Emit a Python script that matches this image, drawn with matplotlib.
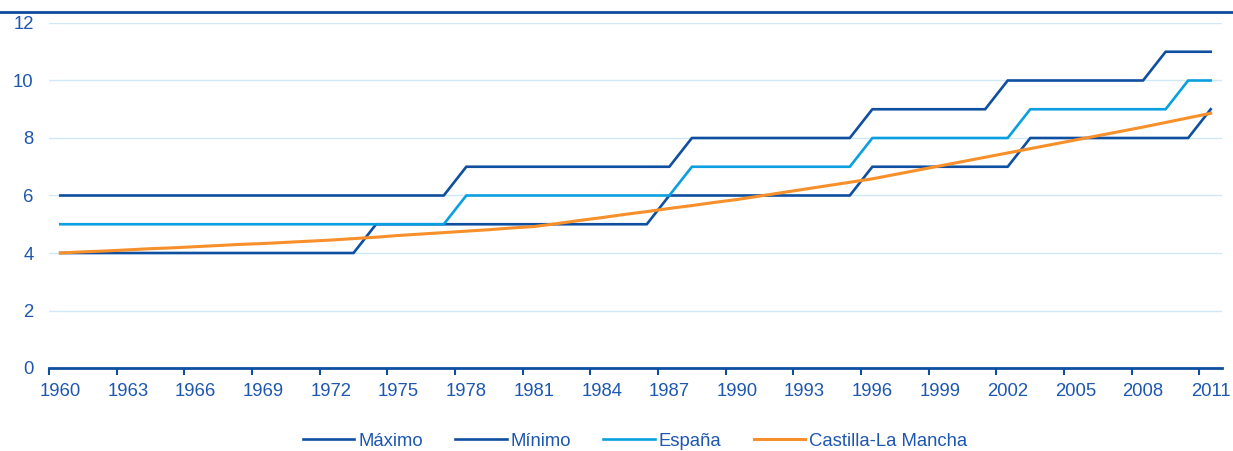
import numpy as np
import matplotlib.pyplot as plt
from matplotlib.lines import Line2D

plt.rcParams['font.family'] = ['Liberation Sans', 'DejaVu Sans']

years = list(range(1960, 2012))

# step series: value and the first year it applies from
maximo_steps = [(1960, 6), (1978, 7), (1988, 8), (1996, 9), (2002, 10), (2009, 11)]
minimo_steps = [(1960, 4), (1974, 5), (1987, 6), (1996, 7), (2003, 8), (2011, 9)]
espana_steps = [(1960, 5), (1978, 6), (1988, 7), (1996, 8), (2003, 9), (2010, 10)]

castilla = [4.00, 4.04, 4.07, 4.11, 4.15, 4.18, 4.22, 4.26, 4.30, 4.33,
            4.37, 4.41, 4.45, 4.50, 4.55, 4.61, 4.66, 4.71, 4.76, 4.81,
            4.87, 4.92, 5.02, 5.13, 5.23, 5.34, 5.44, 5.55, 5.65, 5.76,
            5.86, 5.98, 6.10, 6.22, 6.34, 6.46, 6.58, 6.73, 6.88, 7.03,
            7.18, 7.33, 7.48, 7.63, 7.78, 7.93, 8.08, 8.23, 8.38, 8.54,
            8.70, 8.86]

labels = ["Máximo", "Mínimo", "España", "Castilla-La Mancha"]


def expand(steps):
    out = []
    for y in years:
        v = None
        for start, val in steps:
            if y >= start:
                v = val
        out.append(v)
    return out


maximo = expand(maximo_steps)
minimo = expand(minimo_steps)
espana = expand(espana_steps)

dark = "#0F4FA0"
light = "#0AA0E0"
orange = "#F7902A"
text_c = "#1D57B0"
grid_c = "#CFE9F6"
fs = 13.3

fig = plt.figure(figsize=(12.33, 4.51), dpi=100)
ax = fig.add_axes([49 / 1233, 1 - 368 / 451, (1222 - 49) / 1233, (368 - 23) / 451])

ax.plot(years, maximo, color=dark, lw=1.9, label=labels[0])
ax.plot(years, minimo, color=dark, lw=1.9, label=labels[1])
ax.plot(years, espana, color=light, lw=1.9, label=labels[2])
ax.plot(years, castilla, color=orange, lw=2.2, label=labels[3])

ax.set_xlim(1959.5, 2011.5)
ax.set_ylim(0, 12)
ax.set_yticks(range(0, 13, 2))
ax.yaxis.grid(True, color=grid_c, lw=1)
ax.set_axisbelow(True)

# labels sit in the middle of each category, ticks on the boundaries
ax.set_xticks(years[::3])
ax.set_xticks(np.arange(1959.5, 2011, 3), minor=True)
ax.tick_params(axis='x', which='major', length=0, pad=11, labelsize=fs, labelcolor=text_c)
ax.tick_params(axis='x', which='minor', length=5, width=1.5, color=dark, direction='out')
ax.tick_params(axis='y', length=0, pad=11, labelsize=fs, labelcolor=text_c)

for s in ['top', 'right', 'left']:
    ax.spines[s].set_visible(False)
ax.spines['bottom'].set_color(dark)
ax.spines['bottom'].set_linewidth(2)

fig.add_artist(Line2D([0, 1], [1 - 11.5 / 451, 1 - 11.5 / 451], transform=fig.transFigure,
                      color="#0B4A9C", lw=2))

leg = fig.legend(loc='center', bbox_to_anchor=(0.515, 1 - 441 / 451), ncol=4, frameon=False,
                 fontsize=fs, handlelength=2.8, handletextpad=0.2, columnspacing=1.75)
for t in leg.get_texts():
    t.set_color(text_c)

fig.savefig("out.png", dpi=100)
